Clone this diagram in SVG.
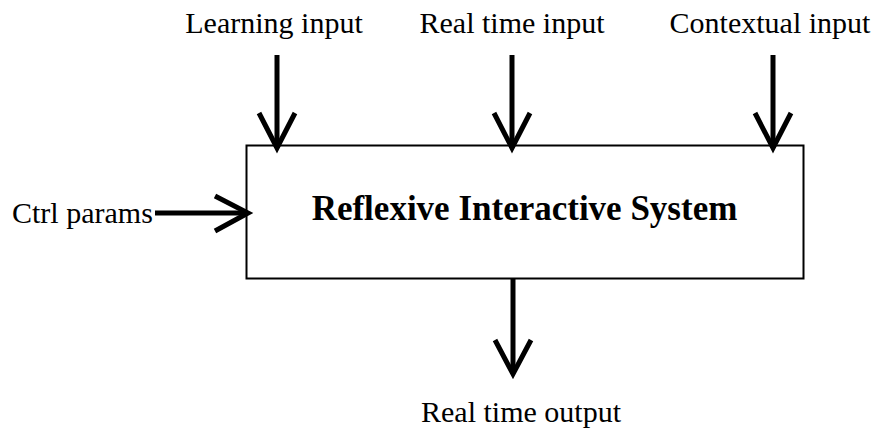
<svg xmlns="http://www.w3.org/2000/svg" width="877" height="428" viewBox="0 0 877 428">
<style>
text{font-family:"Liberation Serif","Times New Roman",serif;fill:#000}
.lbl{font-size:30px}
.title{font-size:35px;font-weight:bold}
.shaft{stroke:#000;stroke-width:5;fill:none}
.head{stroke:#000;stroke-width:5;fill:none;stroke-linejoin:miter;stroke-miterlimit:10}
</style>
<rect width="877" height="428" fill="#fff"/>
<g id="system">
<rect x="246.5" y="145.5" width="557" height="133" fill="#fff" stroke="#000" stroke-width="2"/>
<text class="title" x="524.5" y="220" text-anchor="middle">Reflexive Interactive System</text>
</g>
<g id="learning-input"><text class="lbl" x="274" y="33" text-anchor="middle">Learning input</text></g>
<g id="realtime-input"><text class="lbl" x="512" y="33" text-anchor="middle">Real time input</text></g>
<g id="contextual-input"><text class="lbl" x="770" y="33" text-anchor="middle">Contextual input</text></g>
<g id="ctrl-params"><text class="lbl" x="12" y="223">Ctrl params</text></g>
<g id="realtime-output"><text class="lbl" x="521" y="422" text-anchor="middle">Real time output</text></g>
<g id="connectors">
<line class="shaft" x1="277" y1="55" x2="277" y2="146"/>
<polyline class="head" points="259,113 277,148 295,113"/>
<line class="shaft" x1="512" y1="55" x2="512" y2="146"/>
<polyline class="head" points="494,113 512,148 530,113"/>
<line class="shaft" x1="773" y1="55" x2="773" y2="146"/>
<polyline class="head" points="755,113 773,148 791,113"/>
<line class="shaft" x1="155" y1="213" x2="246" y2="213"/>
<polyline class="head" points="215,196 248,213 215,231"/>
<line class="shaft" x1="513" y1="279" x2="513" y2="372"/>
<polyline class="head" points="495,340 513,374 531,340"/>
</g>
</svg>
